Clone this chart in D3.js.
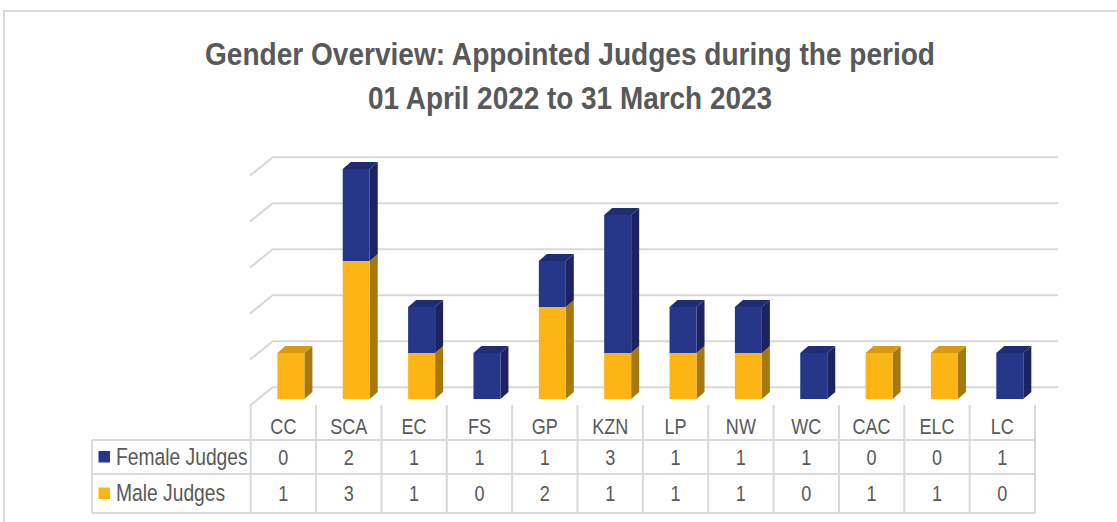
<!DOCTYPE html>
<html>
<head>
<meta charset="utf-8">
<script src="https://cdn.jsdelivr.net/npm/d3@7"></script>
<style>
  body { margin: 0; background: #fff; }
  text { font-family: "Liberation Sans Narrow", "Arial Narrow", "Liberation Sans", sans-serif; fill: #595959; }
</style>
</head>
<body>
<div id="chart"></div>
<script>
// data
const courts = ["CC", "SCA", "EC", "FS", "GP", "KZN", "LP", "NW", "WC", "CAC", "ELC", "LC"];
const female = [0, 2, 1, 1, 1, 3, 1, 1, 1, 0, 0, 1];
const male = [1, 3, 1, 0, 2, 1, 1, 1, 0, 1, 1, 0];
const seriesNames = ["Female Judges", "Male Judges"];
const titleLines = ["Gender Overview: Appointed Judges during the period", "01 April 2022 to 31 March 2023"];

const svgWidth = 1117;
const svgHeight = 522;

// 3d look: depth of the floor and of each bar
const floorDx = 22.7, floorDy = 18.3;
const barDx = 8, barDy = 7;
const barW = 27;
const squeeze = 0.82; // narrow font look

const colors = {
  female: { front: "#26378a", side: "#1b2461", top: "#1f2d74" },
  male: { front: "#fdb515", side: "#a47910", top: "#d99a10" }
};
const gridColor = "#d9d9d9";

const svg = d3.select("#chart")
  .append("svg")
  .attr("width", svgWidth)
  .attr("height", svgHeight);

// outer frame
svg.append("path")
  .attr("d", "M4,522 V11 H1117")
  .attr("fill", "none")
  .attr("stroke", gridColor)
  .attr("stroke-width", 2);

// title
const titleWidths = [730, 404];
svg.selectAll("text.title")
  .data(titleLines)
  .enter()
  .append("text")
  .attr("class", "title")
  .attr("x", 570)
  .attr("y", (d, i) => 65 + i * 44)
  .attr("text-anchor", "middle")
  .attr("font-size", 32)
  .attr("font-weight", "bold")
  .attr("textLength", (d, i) => titleWidths[i])
  .attr("lengthAdjust", "spacingAndGlyphs")
  .text(d => d);

// scales
const x = d3.scaleBand()
  .domain(courts)
  .range([250.7, 1035]);

const y = d3.scaleLinear()
  .domain([0, 5])
  .range([399, 169]);

// back wall gridlines
const gridY = d3.scaleLinear()
  .domain([0, 5])
  .range([387.3, 157.3]);

const grid = svg.append("g");
gridY.ticks(5).forEach(t => {
  const gy = gridY(t);
  grid.append("path")
    .attr("d", `M${250},${gy + floorDy} L${250 + floorDx},${gy} H1058`)
    .attr("fill", "none")
    .attr("stroke", gridColor)
    .attr("stroke-width", 2);
});

// bars (stacked: male at bottom, female on top)
const stacked = courts.map((c, i) => ({
  court: c,
  parts: [
    { key: "male", y0: 0, y1: male[i] },
    { key: "female", y0: male[i], y1: male[i] + female[i] }
  ].filter(p => p.y1 > p.y0)
}));

const barGroups = svg.selectAll("g.bar")
  .data(stacked)
  .enter()
  .append("g")
  .attr("class", "bar");

barGroups.each(function(d) {
  const g = d3.select(this);
  const x0 = x(d.court) + x.bandwidth() / 2 - 6;
  const x1 = x0 + barW;
  d.parts.forEach((p, idx) => {
    const yb = y(p.y0), yt = y(p.y1);
    const c = colors[p.key];
    // side
    g.append("path")
      .attr("d", `M${x1},${yb} L${x1 + barDx},${yb - barDy} L${x1 + barDx},${yt - barDy} L${x1},${yt} Z`)
      .attr("fill", c.side);
    // front
    g.append("rect")
      .attr("x", x0)
      .attr("y", yt)
      .attr("width", barW)
      .attr("height", yb - yt)
      .attr("fill", c.front);
    // top, only for the highest segment
    if (idx === d.parts.length - 1) {
      g.append("path")
        .attr("d", `M${x0},${yt} L${x0 + barDx},${yt - barDy} L${x1 + barDx},${yt - barDy} L${x1},${yt} Z`)
        .attr("fill", c.top);
    }
  });
});

// data table
const table = svg.append("g");
const rowTop = 405, row1 = 440, row2 = 474, row3 = 513;
const tableLeft = 92;

function squeezedText(sel, tx, ty, size, anchor, str) {
  sel.append("text")
    .attr("transform", `translate(${tx},${ty}) scale(${squeeze},1)`)
    .attr("text-anchor", anchor)
    .attr("font-size", size)
    .text(str);
}

x.domain().forEach(c => {
  table.append("line")
    .attr("x1", x(c)).attr("x2", x(c))
    .attr("y1", rowTop).attr("y2", row3)
    .attr("stroke", gridColor).attr("stroke-width", 2);
});
table.append("line")
  .attr("x1", 1035).attr("x2", 1035)
  .attr("y1", rowTop).attr("y2", row3)
  .attr("stroke", gridColor).attr("stroke-width", 2);
table.append("line")
  .attr("x1", tableLeft).attr("x2", tableLeft)
  .attr("y1", row1).attr("y2", row3)
  .attr("stroke", gridColor).attr("stroke-width", 2);
[row1, row2, row3].forEach(ry => {
  table.append("line")
    .attr("x1", tableLeft).attr("x2", 1035)
    .attr("y1", ry).attr("y2", ry)
    .attr("stroke", gridColor).attr("stroke-width", 2);
});

// category labels
courts.forEach(c => {
  squeezedText(table, x(c) + x.bandwidth() / 2, 434, 22, "middle", c);
});

// value rows
const rows = [
  { name: seriesNames[0], values: female, color: colors.female.front, base: 465, sq: 451 },
  { name: seriesNames[1], values: male, color: colors.male.front, base: 501, sq: 487.5 }
];

rows.forEach(r => {
  table.append("rect")
    .attr("x", 98.5).attr("y", r.sq)
    .attr("width", 11.5).attr("height", 11.5)
    .attr("fill", r.color);
  squeezedText(table, 116, r.base, 23.5, "start", r.name);
  r.values.forEach((v, i) => {
    squeezedText(table, x(courts[i]) + x.bandwidth() / 2, r.base, 22, "middle", v);
  });
});
</script>
</body>
</html>
